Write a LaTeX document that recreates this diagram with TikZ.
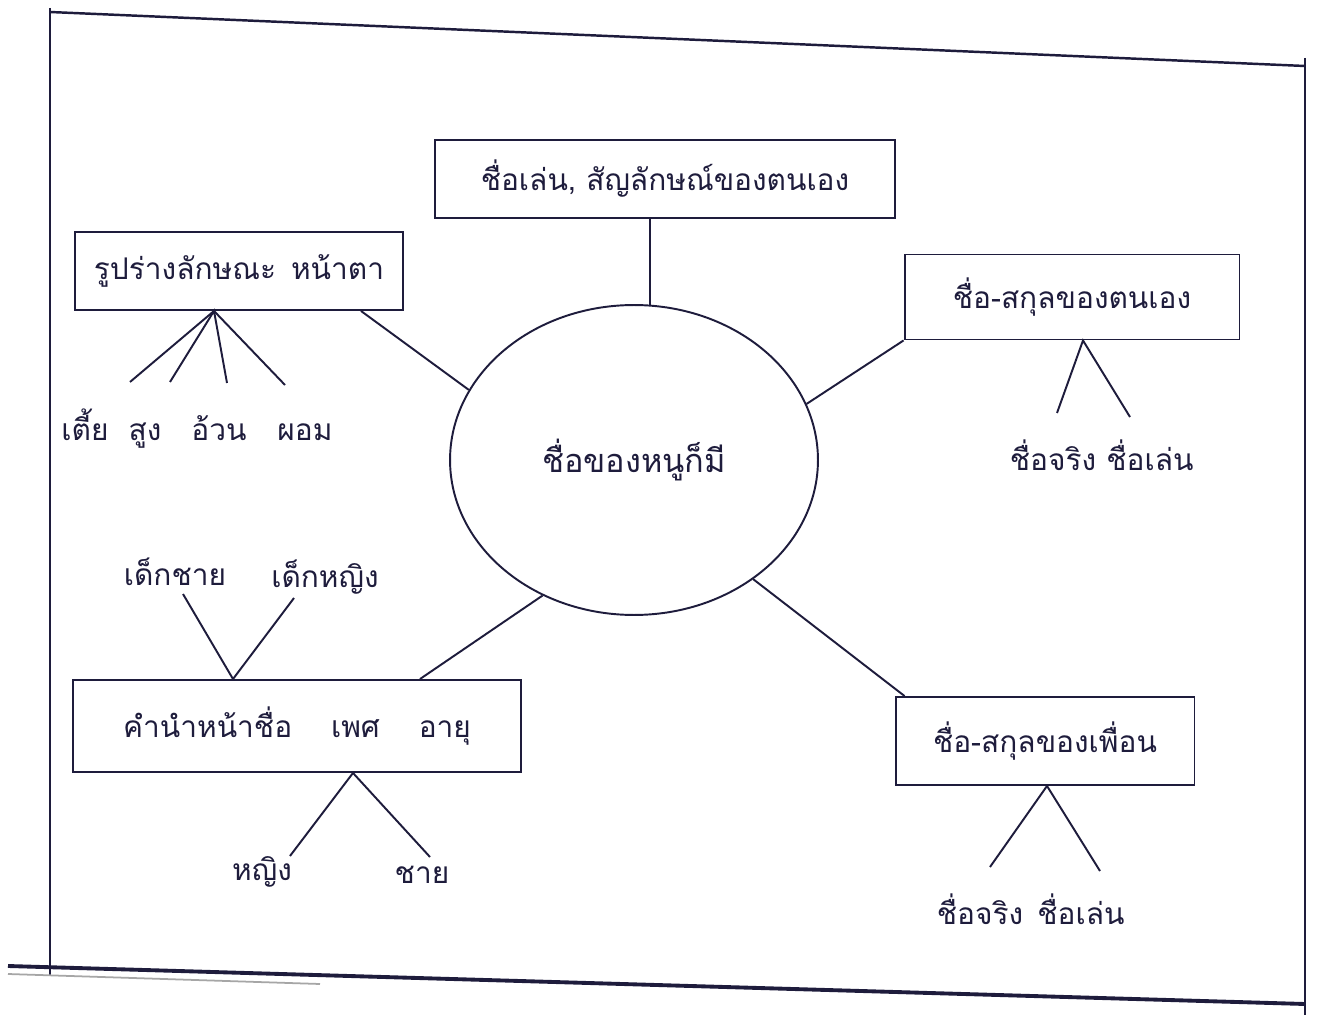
\documentclass[tikz,border=0pt]{standalone}
\usepackage{fontspec}
\newfontfamily\thaifont[Script=Thai]{Loma}
\usetikzlibrary{shapes.geometric}
\definecolor{ink}{RGB}{30,28,60}
\begin{document}
\begin{tikzpicture}[x=0.02cm,y=-0.02cm,
  every node/.style={font=\thaifont\fontsize{17}{20}\selectfont, text=ink},
  lbl/.style={anchor=base},
  box/.style={draw=ink, line width=1.1pt, rectangle, inner sep=0pt},
  link/.style={draw=ink, line width=1.1pt},
  frame/.style={draw=ink, line width=1.4pt}]
\useasboundingbox[fill=white] (0,0) rectangle (1329,1020);
% outer frame (scanned page)
\draw[frame] (50,12) -- (1305,66);
\draw[frame] (50,8) -- (50,975);
\draw[frame] (1305,58) -- (1305,1015);
\draw[frame, line width=2.2pt] (8,966) -- (1305,1004);
\draw[draw=black!35, line width=1pt] (8,974) -- (320,984);

% centre
\node[ellipse, draw=ink, line width=1.1pt, minimum width=7.36cm, minimum height=6.2cm, inner sep=0pt,
      font=\thaifont\fontsize{18.5}{22}\selectfont] (ell) at (634,460) {ชื่อของหนูก็มี};

% boxes
\node[box, minimum width=9.2cm, minimum height=1.56cm] (top) at (665,179) {ชื่อเล่น, สัญลักษณ์ของตนเอง};
\node[box, minimum width=6.56cm, minimum height=1.56cm] (lt) at (239,271) {รูปร่างลักษณะ\hspace{0.5em}หน้าตา};
\node[box, minimum width=6.7cm, minimum height=1.7cm] (rt) at (1072,297) {ชื่อ-สกุลของตนเอง};
\node[box, minimum width=8.98cm, minimum height=1.84cm] (lb) at (297,726) {คำนำหน้าชื่อ\hspace{1.3em}เพศ\hspace{1.3em}อายุ};
\node[box, minimum width=5.98cm, minimum height=1.76cm] (rb) at (1045,741) {ชื่อ-สกุลของเพื่อน};

% box -- ellipse links
\draw[link] (ell.84) -- (ell.84 |- top.south);
\draw[link] (ell.157) -- ([xshift=2.44cm]lt.south);
\draw[link] (ell.18) -- (rt.south west);
\draw[link] (ell.236) -- ([xshift=2.46cm]lb.north);
\draw[link] (ell.315) -- ([xshift=0.2cm]rb.north west);

% labels
\node[lbl] (l1) at (85,440) {เตี้ย};
\node[lbl] (l2) at (145,440) {สูง};
\node[lbl] (l3) at (219,440) {อ้วน};
\node[lbl] (l4) at (305,440) {ผอม};
\node[lbl] (r1) at (1053,471) {ชื่อจริง};
\node[lbl] (r2) at (1150,471) {ชื่อเล่น};
\node[lbl] (u1) at (175,585) {เด็กชาย};
\node[lbl] (u2) at (325,587) {เด็กหญิง};
\node[lbl] (d1) at (262,880) {หญิง};
\node[lbl] (d2) at (422,883) {ชาย};
\node[lbl] (f1) at (980,924) {ชื่อจริง};
\node[lbl] (f2) at (1081,924) {ชื่อเล่น};

% fan end points
\coordinate (e1) at (130,382);
\coordinate (e2) at (170,382);
\coordinate (e3) at (227,383);
\coordinate (e4) at (285,385);
\coordinate (g1) at (1057,413);
\coordinate (g2) at (1130,417);
\coordinate (h1) at (183,594);
\coordinate (h2) at (294,598);
\coordinate (k1) at (290,856);
\coordinate (k2) at (430,857);
\coordinate (m1) at (990,867);
\coordinate (m2) at (1100,871);

% fans
\draw[link] (e1) -- ([xshift=-0.5cm]lt.south) -- (e4);
\draw[link] (e2) -- ([xshift=-0.5cm]lt.south) -- (e3);
\draw[link] (g1) -- ([xshift=0.22cm]rt.south) -- (g2);
\draw[link] (h1) -- ([xshift=-1.28cm]lb.north) -- (h2);
\draw[link] (k1) -- ([xshift=1.12cm]lb.south) -- (k2);
\draw[link] (m1) -- ([xshift=0.04cm]rb.south) -- (m2);
\end{tikzpicture}
\end{document}
